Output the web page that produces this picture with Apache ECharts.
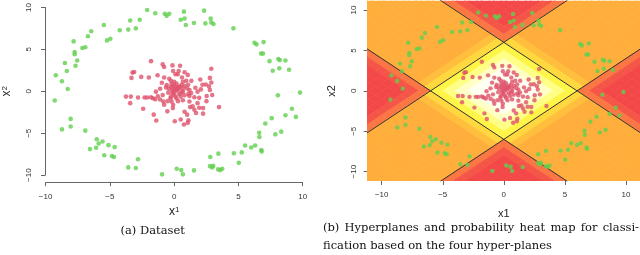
<!DOCTYPE html>
<html><head><meta charset="utf-8">
<script src="https://cdn.jsdelivr.net/npm/echarts@6/dist/echarts.min.js"></script>
<style>html,body{margin:0;padding:0;background:#fff;}#c{width:640px;height:255px;}</style>
</head><body><div id="c"></div>
<script>
// ---- data ----
const tickValues = [-10, -5, 0, 5, 10];
const redX = [-1.80,-0.89,-0.78,-0.13,0.46,-0.08,0.10,0.28,0.35,0.81,1.06,2.89,-3.11,-3.24,-3.32,-2.56,-1.97,-1.29,-0.78,2.03,2.78,2.89,2.46,-0.96,-0.58,-0.63,-0.25,0.00,-0.20,0.00,0.18,0.30,-0.25,-0.08,0.10,-0.15,0.05,0.25,0.43,0.56,0.68,0.94,0.81,0.68,0.56,1.01,1.19,1.11,0.51,0.10,-0.25,1.65,2.08,1.82,2.78,2.96,2.53,1.19,-1.42,-3.75,-3.37,-2.81,-2.30,-2.10,-1.80,-1.65,-1.47,-3.42,-0.89,-0.46,-0.84,-0.78,-0.28,-0.20,-0.08,-0.10,-2.41,-0.53,-1.59,-1.39,0.05,0.51,0.76,1.06,1.11,0.81,1.01,1.19,1.44,1.24,1.82,1.57,1.70,2.25,2.25,3.49,1.09,1.34,0.18,0.68,0.30,-0.51,-0.38,0.61,1.57,1.95,-1.09,-1.27,0.38,-0.13,1.95,2.71,0.13,0.38,-0.03,0.81,-0.41,1.32,0.68,-1.09,2.20,2.51];
const redY = [3.60,3.21,2.90,3.09,3.05,2.43,2.03,2.03,2.43,2.27,1.96,2.70,2.31,2.23,1.60,1.72,1.64,1.92,1.64,1.41,1.60,1.06,0.82,1.02,0.74,0.47,1.25,1.13,0.86,0.74,0.94,0.55,0.55,0.35,0.47,0.08,-0.04,0.16,0.55,0.74,1.13,1.25,0.63,-0.04,-0.16,0.35,0.16,-0.31,-0.63,-0.63,-0.63,0.43,0.23,-0.04,0.16,-0.43,-0.55,-0.55,-0.04,-0.63,-0.63,-0.74,-0.74,-0.74,-0.70,-0.82,-0.94,-1.41,-0.43,-0.16,-1.21,-1.60,-0.82,-1.21,-1.60,-2.00,-2.07,-2.39,-2.78,-3.48,-3.56,-3.36,-3.95,-3.76,-3.44,-2.43,-2.78,-1.21,-1.80,-1.88,-1.41,-2.19,-2.58,-2.00,-2.66,-1.88,0.78,1.25,-0.86,-1.06,-1.17,-1.17,1.49,1.64,-0.70,-0.78,-0.98,-0.59,-0.31,-0.23,-1.96,0.59,0.20,0.31,-0.39,-0.47,0.31,-0.20,0.31,0.31,0.78,-1.17];
const greenX = [-2.10,-1.47,-0.73,-0.58,-0.38,0.76,0.51,0.81,0.91,1.54,2.33,2.43,2.84,2.89,3.06,4.61,-2.68,-3.42,-2.98,-3.57,-4.23,-5.47,-4.96,-5.22,-6.45,-6.71,-6.91,-7.14,-7.82,-7.74,-7.74,-7.54,-7.67,-8.35,-8.50,-9.21,-8.73,-8.28,-9.29,-8.05,6.25,6.40,6.96,6.76,6.91,7.42,7.67,8.10,8.22,8.18,8.66,8.94,9.79,8.07,9.16,8.66,9.47,7.59,7.09,-8.73,-8.05,-6.91,-6.02,-5.57,-5.87,-6.07,-6.55,-5.11,-4.63,-5.44,-4.84,-4.68,-2.81,-3.57,-2.98,-0.94,0.20,0.55,0.68,1.54,2.81,2.79,3.04,2.96,3.44,3.42,3.59,3.74,4.65,5.03,5.26,5.52,6.00,6.30,6.78,6.81,6.61,6.63,7.87,8.33];
const greenY = [9.70,9.31,9.24,9.00,9.24,9.50,8.53,8.69,7.90,8.14,9.62,8.10,8.69,8.22,8.02,7.51,8.53,8.45,7.51,7.36,7.28,7.90,6.26,6.07,7.16,6.57,5.25,5.16,5.95,4.69,4.42,3.67,3.05,2.43,3.37,1.91,1.21,0.27,-1.09,-3.29,5.79,5.60,5.87,4.50,4.50,3.60,2.46,3.84,3.72,2.74,3.67,2.58,-0.15,-0.47,-2.08,-2.85,-3.05,-3.20,-3.83,-4.54,-4.19,-4.69,-5.71,-5.99,-6.22,-6.73,-6.89,-6.42,-6.65,-7.63,-7.71,-7.83,-8.10,-9.07,-9.15,-9.90,-9.23,-9.39,-9.90,-9.43,-7.83,-8.92,-8.88,-9.07,-7.43,-9.31,-9.39,-9.23,-7.39,-8.53,-7.28,-6.46,-6.69,-6.46,-7.00,-7.16,-4.93,-5.44,-5.13,-4.81];

// probability heat map on a diamond lattice: rows at heatY, cells at heatXHalfRow (half-integer rows)
// or heatXIntRow (integer rows); levels 0 = white ... 9 = red
const heatXHalfRow = [-11,-10,-9,-8,-7,-6,-5,-4,-3,-2,-1,0,1,2,3,4,5,6,7,8,9,10,11];
const heatXIntRow = [-11.5,-10.5,-9.5,-8.5,-7.5,-6.5,-5.5,-4.5,-3.5,-2.5,-1.5,-0.5,0.5,1.5,2.5,3.5,4.5,5.5,6.5,7.5,8.5,9.5,10.5,11.5];
const heatY = [11.5,11,10.5,10,9.5,9,8.5,8,7.5,7,6.5,6,5.5,5,4.5,4,3.5,3,2.5,2,1.5,1,0.5,0,-0.5,-1,-1.5,-2,-2.5,-3,-3.5,-4,-4.5,-5,-5.5,-6,-6.5,-7,-7.5,-8,-8.5,-9,-9.5,-10,-10.5,-11,-11.5];
const heatRows = [
"66666678999999987666666",
"666666678999999876666666",
"66666667899999876666666",
"666666667899998766666666",
"66666666789998766666666",
"666666666789987666666666",
"66666666678987666666666",
"666666666678876666666666",
"66666666667876666666666",
"666666666667766666666666",
"66666666665756666666666",
"666666666654456666666666",
"66666666654345666666666",
"766666666543345666666667",
"76666666543234566666667",
"876666665432234566666678",
"87666665432123456666678",
"987666654321123456666789",
"98766654321012345666789",
"998766543210012345667899",
"99876543210001234567899",
"999875432100001234578999",
"99987432100000123478999",
"999987321000000123789999",
"99987432100000123478999",
"999875432100001234578999",
"99876543210001234567899",
"998766543210012345667899",
"98766654321012345666789",
"987666654321123456666789",
"87666665432123456666678",
"876666665432234566666678",
"76666666543234566666667",
"766666666543345666666667",
"66666666654345666666666",
"666666666654456666666666",
"66666666665756666666666",
"666666666667766666666666",
"66666666667876666666666",
"666666666678876666666666",
"66666666678987666666666",
"666666666789987666666666",
"66666666789998766666666",
"666666667899998766666666",
"66666667899999876666666",
"666666678999999876666666",
"66666678999999987666666"
];
const heatColors = ['#FFFFF2','#FFFFC6','#FFFF86','#FFF546','#FFD83E','#FFBE3C','#FFAE3B','#FA7643','#F55547','#F44848'];
const heatExtent = 11.15;

// hyperplanes (segments) and their labels
const planeStartX = [-11.2, -5.2, -5.2, -11.2];
const planeStartY = [5.2, 11.2, -11.2, -5.2];
const planeEndX = [5.2, 11.2, 11.2, 5.2];
const planeEndY = [-11.2, -5.2, 5.2, 11.2];
const planeNames = ['1', '2', '3', '4'];
const planeLabelX = [-4.0, 4.05, 4.05, -3.05];
const planeLabelY = [-3.1, 2.95, -3.1, 4.0];

const captionA = '(a) Dataset';
const captionB1 = '(b) Hyperplanes and probability heat map for classi-';
const captionB2 = 'fication based on the four hyper-planes';

// ---- build ----
const redData = redX.map((x, i) => [x, redY[i]]);
const greenData = greenX.map((x, i) => [x, greenY[i]]);
const heatData = [];
heatRows.forEach((row, r) => {
  const y = heatY[r];
  const xs = Number.isInteger(y) ? heatXIntRow : heatXHalfRow;
  for (let c = 0; c < row.length; c++) heatData.push([xs[c], y, Number(row[c])]);
});
const cellHalf = Math.abs(heatY[0] - heatY[1]);

const FONT = 'Liberation Sans';
const CAP_FONT = '11.5px "DejaVu Serif"';
const minus = v => (v < 0 ? '\u2212' + (-v) : String(v));
const RED = '#DF536B', GREEN = '#61D04F';
const subRich = { a: { fontSize: 12, lineHeight: 12, verticalAlign: 'top', color: '#222', fontFamily: FONT },
                  b: { fontSize: 8, lineHeight: 20, verticalAlign: 'top', color: '#222', fontFamily: FONT } };

function lab(margin, rotate) {
  return { fontSize: 8, color: '#333', fontFamily: FONT, formatter: minus, margin: margin, rotate: rotate || 0,
           customValues: tickValues };
}
const tick = { show: true, length: 4, lineStyle: { color: '#666', width: 1 }, customValues: tickValues };

// justified first caption line (LaTeX style)
const mctx = document.createElement('canvas').getContext('2d');
mctx.font = CAP_FONT;
const words = captionB1.split(' ');
const wordW = words.map(w => mctx.measureText(w).width);
const lineLeft = 323, lineRight = 639;
const gap = (lineRight - lineLeft - wordW.reduce((a, b) => a + b, 0)) / (words.length - 1);
const justified = [];
let cx = lineLeft;
words.forEach((w, i) => {
  justified.push({ type: 'text', x: cx, y: 228, style: { text: w, font: CAP_FONT, fill: '#111', textAlign: 'left', textVerticalAlign: 'middle' } });
  cx += wordW[i] + gap;
});

const chart = echarts.init(document.getElementById('c'), null, { renderer: 'canvas' });
chart.setOption({
  animation: false,
  textStyle: { fontFamily: FONT },
  grid: [
    { left: 39.3, top: 4.8, width: 263.4, height: 170.4 },
    { left: 503.85 - heatExtent * 12.215, top: 90.85 - heatExtent * 8.085, width: 2 * heatExtent * 12.215, height: 2 * heatExtent * 8.085 }
  ],
  xAxis: [
    { gridIndex: 0, type: 'value', min: -10, max: 10, interval: 5, offset: 7, splitLine: { show: false },
      axisLine: { show: true, onZero: false, lineStyle: { color: '#666', width: 1 } },
      axisTick: { show: true, length: 4, lineStyle: { color: '#666', width: 1 } },
      axisLabel: { fontSize: 8, color: '#333', fontFamily: FONT, formatter: minus, margin: 11 },
      name: '{a|x}{b|1}', nameLocation: 'middle', nameGap: 23, nameTextStyle: { rich: subRich } },
    { gridIndex: 1, type: 'value', min: -heatExtent, max: heatExtent, splitLine: { show: false },
      axisLine: { show: false, onZero: false },
      axisTick: tick, axisLabel: lab(10),
      name: 'x1', nameLocation: 'middle', nameGap: 27, nameTextStyle: { fontSize: 11, color: '#222', fontFamily: FONT } }
  ],
  yAxis: [
    { gridIndex: 0, type: 'value', min: -10, max: 10, interval: 5, offset: 0.6, splitLine: { show: false },
      axisLine: { show: true, onZero: false, lineStyle: { color: '#666', width: 1 } },
      axisTick: { show: true, length: 4, lineStyle: { color: '#666', width: 1 } },
      axisLabel: { fontSize: 8, color: '#333', fontFamily: FONT, formatter: minus, margin: 12, rotate: 90 },
      name: '{a|x}{b|2}', nameLocation: 'middle', nameGap: 24, nameTextStyle: { rich: subRich } },
    { gridIndex: 1, type: 'value', min: -heatExtent, max: heatExtent, splitLine: { show: false },
      axisLine: { show: false, onZero: false },
      axisTick: tick, axisLabel: lab(10, 90),
      name: 'x2', nameLocation: 'middle', nameGap: 30, nameTextStyle: { fontSize: 11, color: '#222', fontFamily: FONT } }
  ],
  visualMap: {
    show: false, type: 'continuous', seriesIndex: 2, dimension: 2,
    min: 0, max: 9, inRange: { color: heatColors }
  },
  series: [
    { type: 'scatter', xAxisIndex: 0, yAxisIndex: 0, data: redData, symbolSize: 4.6, itemStyle: { color: RED }, z: 3 },
    { type: 'scatter', xAxisIndex: 0, yAxisIndex: 0, data: greenData, symbolSize: 4.6, itemStyle: { color: GREEN }, z: 3 },
    { type: 'custom', xAxisIndex: 1, yAxisIndex: 1, data: heatData, z: 1, clip: true, silent: true,
      renderItem: function (params, api) {
        const x = api.value(0), y = api.value(1);
        const pts = [api.coord([x - cellHalf, y]), api.coord([x, y + cellHalf]), api.coord([x + cellHalf, y]), api.coord([x, y - cellHalf])];
        const col = api.visual('color');
        return { type: 'polygon', shape: { points: pts }, style: { fill: col, stroke: col, lineWidth: 0.7 } };
      } },
    ...planeNames.map((n, i) => ({
      type: 'line', xAxisIndex: 1, yAxisIndex: 1, clip: true, symbol: 'none', z: 2,
      data: [[planeStartX[i], planeStartY[i]], [planeEndX[i], planeEndY[i]]],
      lineStyle: { color: '#333', width: 1 }
    })),
    { type: 'scatter', xAxisIndex: 1, yAxisIndex: 1, data: greenData, symbolSize: 4.4, itemStyle: { color: GREEN }, z: 4 },
    { type: 'scatter', xAxisIndex: 1, yAxisIndex: 1, data: redData, symbolSize: 4.4, itemStyle: { color: RED }, z: 4 },
    { type: 'scatter', xAxisIndex: 1, yAxisIndex: 1, z: 5, symbolSize: 1, itemStyle: { opacity: 0 },
      data: planeNames.map((n, i) => ({ name: n, value: [planeLabelX[i], planeLabelY[i]] })),
      label: { show: true, position: 'inside', formatter: '{b}', fontSize: 9, color: '#111', fontFamily: FONT } }
  ],
  graphic: [
    { type: 'text', x: 152.7, y: 231, style: { text: captionA, font: CAP_FONT, fill: '#111', textAlign: 'center', textVerticalAlign: 'middle' } },
    ...justified,
    { type: 'text', x: 323, y: 246, style: { text: captionB2, font: CAP_FONT, fill: '#111', textAlign: 'left', textVerticalAlign: 'middle' } }
  ]
});
</script>
</body></html>
